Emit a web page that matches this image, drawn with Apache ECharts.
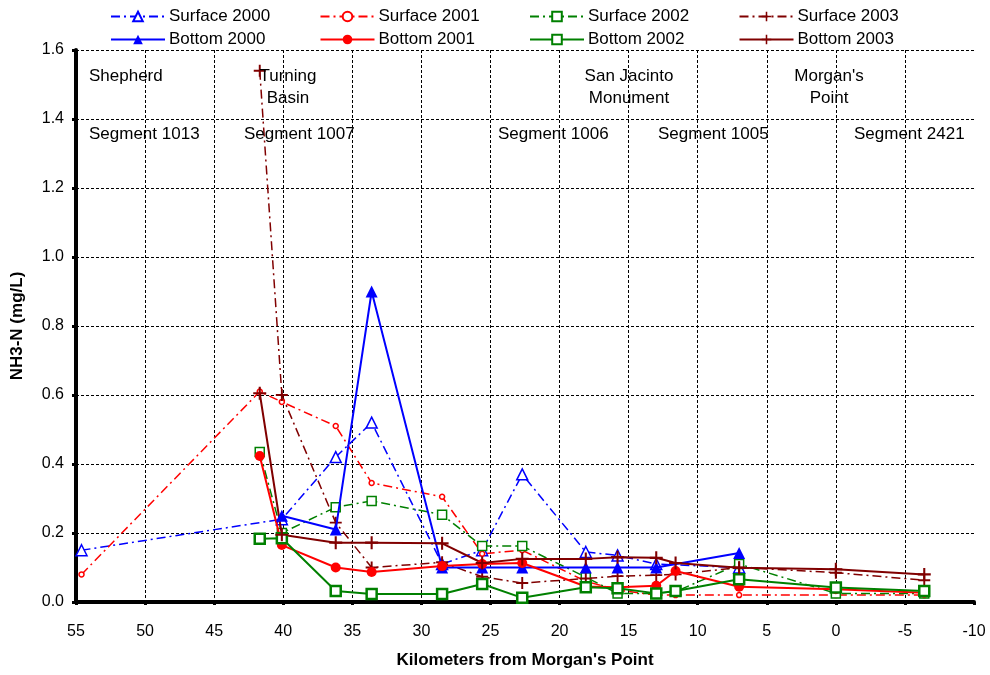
<!DOCTYPE html>
<html>
<head>
<meta charset="utf-8">
<script src="https://cdn.jsdelivr.net/npm/echarts@6/dist/echarts.min.js"></script>
<style>
html,body{margin:0;padding:0;background:#fff;}
#chart{width:990px;height:675px;}
</style>
</head>
<body>
<div id="chart"></div>
<script>
// Station positions (km from Morgan's Point)
var stations = [54.6, 41.7, 40.1, 36.2, 33.6, 28.5, 25.6, 22.7, 18.1, 15.8, 13.0, 11.6, 7.0, 0.0, -6.4];

// NH3-N (mg/L) values; null = no sample
var surface2000 = [0.15, null, 0.24, 0.42, 0.52, 0.11, 0.15, 0.37, 0.145, 0.135, 0.11, null, 0.10, null, null];
var bottom2000  = [null, null, 0.25, 0.21, 0.90, 0.10, 0.10, 0.10, 0.10, 0.10, 0.10, null, 0.142, null, null];
var surface2001 = [0.08, 0.61, 0.58, 0.51, 0.345, 0.305, 0.14, 0.15, 0.06, 0.035, 0.02, 0.02, 0.02, 0.02, 0.02];
var bottom2001  = [null, 0.423, 0.165, 0.10, 0.087, 0.104, 0.11, 0.113, 0.045, 0.043, 0.047, 0.09, 0.044, 0.037, 0.027];
var surface2002 = [null, 0.435, 0.20, 0.275, 0.293, 0.253, 0.162, 0.162, 0.072, 0.025, 0.025, 0.03, 0.11, 0.025, 0.025];
var bottom2002  = [null, 0.183, 0.185, 0.032, 0.023, 0.023, 0.052, 0.012, 0.043, 0.04, 0.025, 0.032, 0.066, 0.042, 0.032];
var surface2003 = [null, 1.54, 0.60, 0.23, 0.10, 0.115, 0.073, 0.055, 0.068, 0.075, 0.078, 0.08, 0.10, 0.085, 0.063];
var bottom2003  = [null, 0.605, 0.195, 0.172, 0.172, 0.17, 0.113, 0.125, 0.125, 0.13, 0.128, 0.113, 0.099, 0.095, 0.08];

var xTickMin = -10, xTickMax = 55, xTickStep = 5;
var yTickMin = 0, yTickMax = 1.6, yTickStep = 0.2;

var legendColumns = [
  ['Surface 2000', 'Bottom 2000'],
  ['Surface 2001', 'Bottom 2001'],
  ['Surface 2002', 'Bottom 2002'],
  ['Surface 2003', 'Bottom 2003']
];

var annotations = [
  {text: 'Shepherd', x: 89, y: 68, align: 'left'},
  {text: 'Segment 1013', x: 89, y: 126, align: 'left'},
  {text: 'Turning', x: 288, y: 68, align: 'center'},
  {text: 'Basin', x: 288, y: 90, align: 'center'},
  {text: 'Segment 1007', x: 244, y: 126, align: 'left'},
  {text: 'San Jacinto', x: 629, y: 68, align: 'center'},
  {text: 'Monument', x: 629, y: 90, align: 'center'},
  {text: 'Segment 1006', x: 498, y: 126, align: 'left'},
  {text: 'Segment 1005', x: 658, y: 126, align: 'left'},
  {text: "Morgan's", x: 829, y: 68, align: 'center'},
  {text: 'Point', x: 829, y: 90, align: 'center'},
  {text: 'Segment 2421', x: 854, y: 126, align: 'left'}
];

function pairs(vals){
  var out = [];
  for (var i = 0; i < stations.length; i++) {
    if (vals[i] !== null) out.push([stations[i], vals[i]]);
  }
  return out;
}

var FONT = '"Liberation Sans", Arial, sans-serif';
var PLUS = 'path://M4.2,0H5.8V4.2H10V5.8H5.8V10H4.2V5.8H0V4.2H4.2Z';
var DASHDOT = [9, 4, 2, 4];

function mk(name, vals, color, dashed, symbol, size, fill, bw){
  return {
    name: name,
    type: 'line',
    data: pairs(vals),
    symbol: symbol,
    symbolSize: size,
    showAllSymbol: true,
    animation: false,
    z: dashed ? 3 : 4,
    lineStyle: {color: color, width: dashed ? 1.5 : 2, type: dashed ? DASHDOT : 'solid'},
    itemStyle: {color: fill, borderColor: color, borderWidth: bw, opacity: 1},
    emphasis: {disabled: true}
  };
}

var series = [
  mk('Surface 2000', surface2000, '#0000FF', true, 'triangle', 11, '#FFFFFF', 1.5),
  mk('Surface 2001', surface2001, '#FF0000', true, 'circle', 5, '#FFFFFF', 1.5),
  mk('Surface 2002', surface2002, '#008000', true, 'rect', 9, '#FFFFFF', 1.5),
  mk('Surface 2003', surface2003, '#800000', true, PLUS, 12, '#800000', 0),
  mk('Bottom 2000', bottom2000, '#0000FF', false, 'triangle', 12, '#0000FF', 0),
  mk('Bottom 2001', bottom2001, '#FF0000', false, 'circle', 10, '#FF0000', 0),
  mk('Bottom 2002', bottom2002, '#008000', false, 'rect', 10, '#FFFFFF', 2.5),
  mk('Bottom 2003', bottom2003, '#800000', false, PLUS, 13, '#800000', 0)
];

var legends = legendColumns.map(function(col, i){
  return {
    orient: 'vertical',
    left: 110 + 209.5 * i,
    top: 8,
    itemWidth: 54,
    itemHeight: 12,
    itemGap: 6,
    padding: 0,
    data: col,
    selectedMode: false,
    textStyle: {fontFamily: FONT, fontSize: 17, color: '#000', padding: [0,0,0,-1]}
  };
});

var chart = echarts.init(document.getElementById('chart'), null, {renderer: 'canvas'});
chart.setOption({
  backgroundColor: '#FFFFFF',
  animation: false,
  grid: {left: 76, right: 16, top: 50, bottom: 73, containLabel: false},
  legend: legends,
  xAxis: {
    type: 'value',
    inverse: true,
    min: xTickMin, max: xTickMax, interval: xTickStep,
    name: "Kilometers from Morgan's Point",
    nameLocation: 'middle',
    nameGap: 50,
    nameTextStyle: {fontFamily: FONT, fontSize: 17, fontWeight: 'bold', color: '#000'},
    axisLine: {onZero: false, lineStyle: {color: '#000', width: 4}},
    axisTick: {show: true, length: 3, lineStyle: {color: '#000', width: 3}},
    axisLabel: {fontFamily: FONT, fontSize: 16, color: '#000', margin: 22},
    splitLine: {show: true, showMinLine: false, lineStyle: {color: '#000', width: 1, type: [3, 2]}}
  },
  yAxis: {
    type: 'value',
    min: yTickMin, max: yTickMax, interval: yTickStep,
    name: 'NH3-N (mg/L)',
    nameLocation: 'middle',
    nameGap: 50,
    nameTextStyle: {fontFamily: FONT, fontSize: 17, fontWeight: 'bold', color: '#000'},
    axisLine: {show: true, onZero: false, lineStyle: {color: '#000', width: 4}},
    axisTick: {show: true, length: 4, lineStyle: {color: '#000', width: 3}},
    axisLabel: {fontFamily: FONT, fontSize: 16, color: '#000', margin: 12,
      formatter: function(v){ return v.toFixed(1); }},
    splitLine: {show: true, showMinLine: false, lineStyle: {color: '#000', width: 1, type: [3, 2]}}
  },
  graphic: annotations.map(function(a){
    return {
      type: 'text', left: a.align === 'left' ? a.x : null, x: a.align === 'center' ? a.x : 0, top: a.y,
      z: 10,
      style: {text: a.text, font: '17px ' + FONT, fill: '#000', textAlign: a.align}
    };
  }),
  series: series
});
</script>
</body>
</html>
